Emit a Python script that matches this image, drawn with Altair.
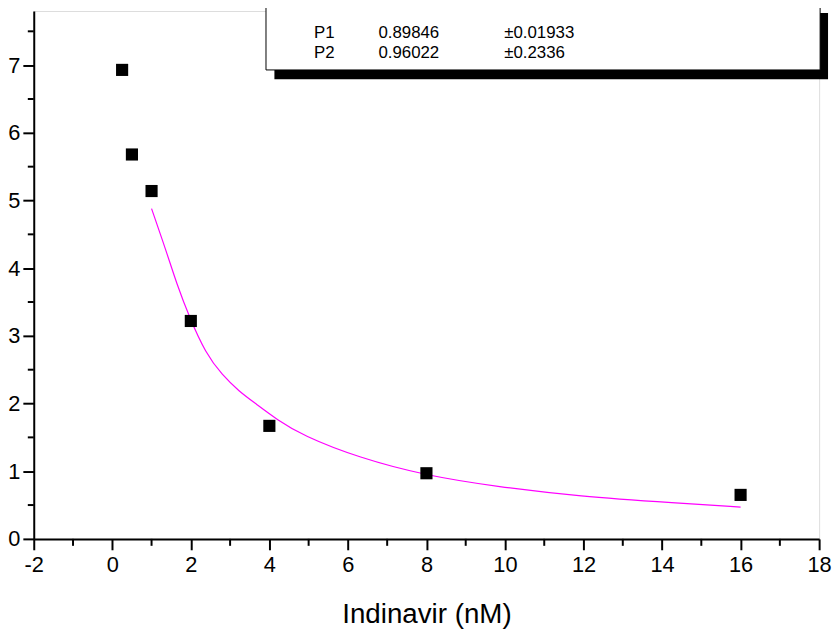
import altair as alt
import pandas as pd

# Measured data points (Indinavir concentration, response)
conc = [0.25, 0.5, 1, 2, 4, 8, 16]
resp = [6.93, 5.68, 5.14, 3.22, 1.67, 0.97, 0.65]

# Fitted curve
fit_x = [1.0, 1.37, 1.64, 1.96, 2.38, 2.80, 3.23, 3.65, 4.20, 4.84, 6.27, 8.03, 9.83, 11.86, 14.4, 16.0]
fit_y = [4.88, 4.26, 3.77, 3.28, 2.74, 2.42, 2.18, 2.00, 1.76, 1.53, 1.20, 0.93, 0.77, 0.63, 0.53, 0.47]

# Fit parameter table
param_names = ["P1", "P2"]
param_values = ["0.89846", "0.96022"]
param_errors = ["\u00b10.01933", "\u00b10.2336"]

x_major = [-2, 0, 2, 4, 6, 8, 10, 12, 14, 16, 18]
x_minor = [-1, 1, 3, 5, 7, 9, 11, 13, 15, 17]
y_major = [0, 1, 2, 3, 4, 5, 6, 7]
y_minor = [0.5, 1.5, 2.5, 3.5, 4.5, 5.5, 6.5, 7.5]

W, H = 793, 533
AXIS_FONT = "Liberation Sans Narrow, Arial Narrow, Liberation Sans, Arial"
TXT_FONT = "Liberation Sans, Arial"

pts = pd.DataFrame({"x": conc, "y": resp})
fit = pd.DataFrame({"x": fit_x, "y": fit_y})
tbl = pd.DataFrame({"name": param_names, "val": param_values, "err": param_errors,
                    "row": list(range(len(param_names)))})
xm = pd.DataFrame({"x": x_minor})
ym = pd.DataFrame({"y": y_minor})
one = pd.DataFrame({"a": [0]})

xscale = alt.Scale(domain=[-2, 18], nice=False, zero=False)
yscale = alt.Scale(domain=[0, 7.8], nice=False, zero=False)

xaxis = alt.Axis(values=x_major, grid=False, title="Indinavir (nM)", tickSize=11,
                 tickWidth=2, domainWidth=2, domainColor="black", tickColor="black",
                 labelFont=AXIS_FONT, labelFontSize=22, labelColor="black",
                 labelPadding=5, labelExpr="'' + datum.value",
                 titleFont=AXIS_FONT, titleFontSize=28,
                 titleFontWeight="normal", titleColor="black", titleY=76,
                 titleBaseline="middle", labelFlush=False)
yaxis = alt.Axis(values=y_major, grid=False, title=None, tickSize=11, tickWidth=2,
                 domainWidth=2, domainColor="black", tickColor="black",
                 labelFont=AXIS_FONT, labelFontSize=22, labelColor="black",
                 labelPadding=3, labelExpr="'' + datum.value", labelFlush=False)

base_pts = alt.Chart(pts).mark_square(size=150, color="black", opacity=1).encode(
    x=alt.X("x:Q", scale=xscale, axis=xaxis),
    y=alt.Y("y:Q", scale=yscale, axis=yaxis),
)

curve = alt.Chart(fit).mark_line(color="#ff00ff", strokeWidth=1.2, interpolate="basis").encode(
    x=alt.X("x:Q", scale=xscale), y=alt.Y("y:Q", scale=yscale)
)

xminor = alt.Chart(xm).mark_rule(color="black", strokeWidth=2).encode(
    x=alt.X("x:Q", scale=xscale), y=alt.value(H), y2=alt.value(H + 7)
)
yminor = alt.Chart(ym).mark_rule(color="black", strokeWidth=2).encode(
    y=alt.Y("y:Q", scale=yscale), x=alt.value(0), x2=alt.value(-6)
)

shadow = alt.Chart(one).mark_rect(color="black").encode(
    x=alt.value(243), x2=alt.value(802), y=alt.value(2), y2=alt.value(69)
)
box = alt.Chart(one).mark_rect(fill="white", stroke="black", strokeWidth=1).encode(
    x=alt.value(234.5), x2=alt.value(794), y=alt.value(-12), y2=alt.value(59.5)
)

tbase = alt.Chart(tbl).transform_calculate(py="22 + 20 * datum.row")
t1 = tbase.mark_text(align="left", baseline="middle", fontSize=17, font=TXT_FONT).encode(
    x=alt.value(283), y=alt.Y("py:Q", scale=None), text="name:N")
t2 = tbase.mark_text(align="left", baseline="middle", fontSize=17, font=TXT_FONT).encode(
    x=alt.value(348), y=alt.Y("py:Q", scale=None), text="val:N")
t3 = tbase.mark_text(align="left", baseline="middle", fontSize=17, font=TXT_FONT).encode(
    x=alt.value(475), y=alt.Y("py:Q", scale=None), text="err:N")

chart = alt.layer(xminor, yminor, curve, base_pts, shadow, box, t1, t2, t3).properties(
    width=W, height=H,
    padding={"left": 26, "top": 0, "right": 13, "bottom": 94},
    autosize=alt.AutoSizeParams(type="none"),
).configure_view(stroke=None).configure(background="white")

chart.save("out.html", embed_options={"renderer": "svg", "actions": False})
